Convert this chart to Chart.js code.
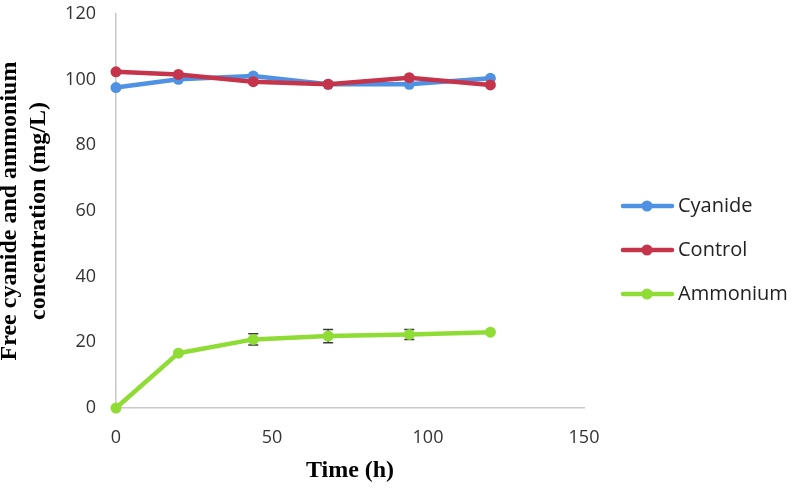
<!DOCTYPE html>
<html><head><meta charset="utf-8">
<script src="https://cdn.jsdelivr.net/npm/chart.js@4"></script>
<style>html,body{margin:0;padding:0;background:#fff}#wrap{width:796px;height:488px}</style>
</head><body><div id="wrap"><canvas id="c" width="796" height="488"></canvas></div>
<script>
const timeHours = [0, 20, 44, 68, 94, 120];
const cyanideValues = [97.6, 100.1, 101.1, 98.6, 98.6, 100.4];
const controlValues = [102.4, 101.6, 99.4, 98.6, 100.6, 98.4];
const ammoniumValues = [0, 16.7, 20.9, 21.9, 22.4, 23.1];
const ammoniumErrors = [0, 0, 1.7, 2.0, 1.5, 0];
const seriesNames = ['Cyanide', 'Control', 'Ammonium'];
const seriesColors = ['#4f91e3', '#c5344a', '#8fdc35'];
const xTicks = [0, 50, 100, 150];
const yTicks = [0, 20, 40, 60, 80, 100, 120];
const xTitle = 'Time (h)';
const yTitle = ['Free cyanide and ammonium', 'concentration (mg/L)'];

function legendMarker(color) {
  const c = document.createElement('canvas');
  c.width = 100; c.height = 14;
  const g = c.getContext('2d');
  g.strokeStyle = color; g.lineWidth = 4.5; g.lineCap = 'round';
  g.beginPath(); g.moveTo(35, 7); g.lineTo(84, 7); g.stroke();
  g.fillStyle = color;
  g.beginPath(); g.arc(59, 7, 5.5, 0, Math.PI * 2); g.fill();
  return c;
}
const markers = seriesColors.map(legendMarker);

function pts(vals) { return timeHours.map((t, i) => ({x: t, y: vals[i]})); }
function ds(i, vals, order) {
  return {
    label: seriesNames[i], data: pts(vals), order: order,
    borderColor: seriesColors[i], backgroundColor: seriesColors[i],
    pointBackgroundColor: seriesColors[i], pointBorderColor: seriesColors[i],
    borderWidth: 4.5, pointRadius: 5.5, pointBorderWidth: 0, tension: 0, clip: false
  };
}

const errorBars = {
  id: 'errorBars',
  beforeDatasetsDraw(chart) {
    const xs = chart.scales.x, ys = chart.scales.y, ctx = chart.ctx;
    ctx.save();
    ctx.strokeStyle = '#3a3a3a'; ctx.lineWidth = 1.5;
    timeHours.forEach((t, i) => {
      const e = ammoniumErrors[i];
      if (!e) return;
      const x = xs.getPixelForValue(t);
      const y1 = ys.getPixelForValue(ammoniumValues[i] + e);
      const y2 = ys.getPixelForValue(ammoniumValues[i] - e);
      ctx.beginPath();
      ctx.moveTo(x, y1); ctx.lineTo(x, y2);
      ctx.moveTo(x - 5, y1); ctx.lineTo(x + 5, y1);
      ctx.moveTo(x - 5, y2); ctx.lineTo(x + 5, y2);
      ctx.stroke();
    });
    ctx.restore();
  }
};

const legendWidth = {
  id: 'legendWidth',
  beforeLayout(chart) {
    const lg = chart.legend;
    if (lg && !lg._widthPatched) {
      const orig = lg.fit.bind(lg);
      lg.fit = function () { orig(); this.width = 212; };
      lg._widthPatched = true;
    }
  }
};

const tickFont = {family: 'Open Sans', size: 18};
new Chart(document.getElementById('c'), {
  type: 'line',
  data: {
    datasets: [ds(0, cyanideValues, 2), ds(1, controlValues, 1), ds(2, ammoniumValues, 0)]
  },
  plugins: [errorBars, legendWidth],
  options: {
    responsive: false, animation: false, devicePixelRatio: 1,
    layout: {padding: {top: 14, bottom: 2, left: 0, right: 0}},
    plugins: {
      tooltip: {enabled: false},
      legend: {
        position: 'right',
        labels: {
          font: {family: 'Open Sans', size: 20}, color: '#222',
          usePointStyle: true, pointStyleWidth: 60, padding: 24,
          sort: (a, b) => a.datasetIndex - b.datasetIndex,
          generateLabels(chart) {
            const items = Chart.defaults.plugins.legend.labels.generateLabels(chart);
            items.forEach(it => { it.pointStyle = markers[it.datasetIndex]; });
            return items;
          }
        }
      }
    },
    scales: {
      x: {
        type: 'linear', min: 0, max: 150,
        afterBuildTicks: s => { s.ticks = xTicks.map(v => ({value: v})); },
        afterFit: s => { s.height = 78; s.paddingLeft = 0; s.paddingRight = 0; },
        grid: {display: false, drawTicks: false},
        border: {display: true, color: '#c8c8c8', width: 1.5},
        ticks: {padding: 19, font: tickFont, color: '#333'},
        title: {display: true, text: xTitle, color: '#000',
          font: {family: 'Liberation Serif', size: 24, weight: 'bold', lineHeight: 1.2},
          padding: {top: 0, bottom: 1}}
      },
      y: {
        type: 'linear', min: 0, max: 120,
        afterBuildTicks: s => { s.ticks = yTicks.map(v => ({value: v})); },
        afterFit: s => { s.width = 116; s.paddingTop = 0; s.paddingBottom = 0; },
        grid: {display: false, drawTicks: false},
        border: {display: true, color: '#c8c8c8', width: 1.5},
        ticks: {padding: 20, font: tickFont, color: '#333'},
        title: {display: true, text: yTitle, color: '#000',
          font: {family: 'Liberation Serif', size: 24, weight: 'bold', lineHeight: 1.23},
          padding: {top: -5, bottom: 0}}
      }
    }
  }
});
</script></body></html>
